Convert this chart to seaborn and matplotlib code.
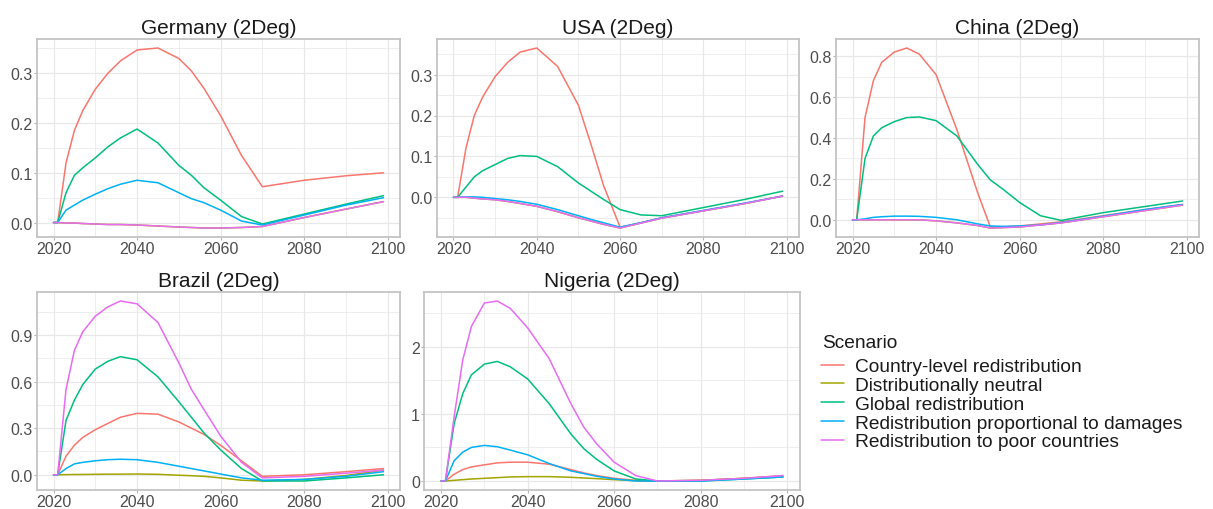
import numpy as np
import pandas as pd
import matplotlib
matplotlib.use("Agg")
import matplotlib.pyplot as plt
import seaborn as sns
from matplotlib.ticker import MultipleLocator, FormatStrFormatter
from matplotlib.lines import Line2D

years = [2020, 2021, 2023, 2025, 2027, 2030, 2033, 2036, 2040, 2045, 2050, 2053, 2056, 2060, 2065, 2070, 2080, 2090, 2099]
scenarios = ["Country-level redistribution", "Distributionally neutral", "Global redistribution",
             "Redistribution proportional to damages", "Redistribution to poor countries"]
colors = ["#F8766D", "#A3A500", "#00BF7D", "#00B0F6", "#E76BF3"]
panel_titles = ["Germany (2Deg)", "USA (2Deg)", "China (2Deg)", "Brazil (2Deg)", "Nigeria (2Deg)"]

germany_country = [0, 0, 0.12, 0.185, 0.225, 0.268, 0.30, 0.325, 0.347, 0.351, 0.33, 0.305, 0.27, 0.215, 0.135, 0.072, 0.085, 0.094, 0.10]
germany_neutral = [0, 0, -0.001, -0.001, -0.002, -0.003, -0.004, -0.004, -0.005, -0.007, -0.009, -0.01, -0.011, -0.011, -0.01, -0.008, 0.01, 0.027, 0.042]
germany_global = [0, 0, 0.06, 0.095, 0.11, 0.13, 0.152, 0.17, 0.188, 0.16, 0.115, 0.095, 0.07, 0.045, 0.012, -0.003, 0.017, 0.037, 0.054]
germany_damages = [0, 0, 0.025, 0.035, 0.045, 0.057, 0.068, 0.077, 0.085, 0.08, 0.06, 0.048, 0.04, 0.025, 0.003, -0.005, 0.015, 0.035, 0.05]
germany_poor = [0, 0, -0.001, -0.001, -0.002, -0.003, -0.004, -0.004, -0.005, -0.007, -0.009, -0.01, -0.011, -0.011, -0.01, -0.008, 0.01, 0.027, 0.042]

usa_country = [0, 0, 0.12, 0.2, 0.245, 0.295, 0.33, 0.355, 0.365, 0.32, 0.225, 0.13, 0.03, -0.073, -0.062, -0.05, -0.033, -0.015, 0.003]
usa_neutral = [0, 0, 0.0, -0.002, -0.004, -0.006, -0.01, -0.015, -0.022, -0.035, -0.05, -0.058, -0.066, -0.075, -0.063, -0.051, -0.033, -0.015, 0.003]
usa_global = [0, 0, 0.025, 0.05, 0.065, 0.08, 0.095, 0.102, 0.1, 0.075, 0.035, 0.015, -0.005, -0.03, -0.043, -0.045, -0.025, -0.005, 0.015]
usa_damages = [0, 0, 0.001, 0.001, 0.0, -0.003, -0.006, -0.01, -0.017, -0.03, -0.045, -0.054, -0.062, -0.073, -0.062, -0.05, -0.032, -0.014, 0.003]
usa_poor = [0, 0, 0.0, -0.002, -0.004, -0.006, -0.01, -0.015, -0.022, -0.035, -0.05, -0.058, -0.066, -0.075, -0.063, -0.051, -0.033, -0.015, 0.003]

china_country = [0, 0, 0.5, 0.68, 0.77, 0.82, 0.84, 0.81, 0.71, 0.44, 0.13, -0.035, -0.035, -0.03, -0.02, -0.01, 0.02, 0.05, 0.075]
china_neutral = [0, 0, 0.0, 0.0, 0.0, 0.0, 0.0, 0.0, -0.005, -0.015, -0.028, -0.04, -0.038, -0.035, -0.025, -0.015, 0.015, 0.045, 0.072]
china_global = [0, 0, 0.3, 0.41, 0.45, 0.48, 0.5, 0.503, 0.485, 0.41, 0.27, 0.195, 0.15, 0.085, 0.02, -0.003, 0.035, 0.065, 0.092]
china_damages = [0, 0, 0.005, 0.012, 0.015, 0.018, 0.018, 0.017, 0.012, 0.0, -0.02, -0.03, -0.032, -0.03, -0.025, -0.013, 0.018, 0.05, 0.075]
china_poor = [0, 0, 0.0, 0.0, 0.0, 0.0, 0.0, 0.0, -0.005, -0.015, -0.028, -0.04, -0.038, -0.035, -0.025, -0.015, 0.015, 0.045, 0.072]

brazil_country = [0, 0, 0.12, 0.19, 0.24, 0.29, 0.33, 0.37, 0.395, 0.39, 0.34, 0.3, 0.26, 0.19, 0.09, -0.01, 0.0, 0.02, 0.04]
brazil_neutral = [0, 0, 0.001, 0.002, 0.002, 0.003, 0.004, 0.004, 0.005, 0.003, -0.003, -0.006, -0.01, -0.02, -0.035, -0.04, -0.03, -0.005, 0.03]
brazil_global = [0, 0, 0.35, 0.48, 0.58, 0.68, 0.73, 0.76, 0.74, 0.63, 0.47, 0.37, 0.27, 0.16, 0.04, -0.04, -0.04, -0.02, 0.0]
brazil_damages = [0, 0, 0.04, 0.07, 0.08, 0.09, 0.097, 0.1, 0.097, 0.08, 0.055, 0.04, 0.025, 0.005, -0.02, -0.035, -0.03, -0.01, 0.02]
brazil_poor = [0, 0, 0.55, 0.8, 0.92, 1.02, 1.08, 1.118, 1.1, 0.98, 0.72, 0.55, 0.42, 0.25, 0.08, -0.02, -0.01, 0.01, 0.03]

nigeria_country = [0, 0, 0.1, 0.17, 0.21, 0.24, 0.27, 0.28, 0.28, 0.25, 0.17, 0.12, 0.08, 0.04, 0.01, 0.0, 0.01, 0.04, 0.08]
nigeria_neutral = [0, 0, 0.01, 0.02, 0.03, 0.04, 0.05, 0.06, 0.065, 0.065, 0.055, 0.045, 0.035, 0.02, 0.005, 0.0, 0.01, 0.04, 0.07]
nigeria_global = [0, 0, 0.85, 1.3, 1.58, 1.74, 1.78, 1.7, 1.52, 1.15, 0.7, 0.48, 0.32, 0.15, 0.03, 0.0, 0.0, 0.03, 0.06]
nigeria_damages = [0, 0, 0.3, 0.43, 0.5, 0.53, 0.51, 0.46, 0.39, 0.26, 0.15, 0.11, 0.07, 0.03, 0.0, 0.0, 0.0, 0.03, 0.06]
nigeria_poor = [0, 0, 0.95, 1.8, 2.3, 2.65, 2.68, 2.57, 2.28, 1.82, 1.15, 0.8, 0.55, 0.28, 0.08, 0.0, 0.01, 0.04, 0.08]

panel_series = [
    [germany_country, germany_neutral, germany_global, germany_damages, germany_poor],
    [usa_country, usa_neutral, usa_global, usa_damages, usa_poor],
    [china_country, china_neutral, china_global, china_damages, china_poor],
    [brazil_country, brazil_neutral, brazil_global, brazil_damages, brazil_poor],
    [nigeria_country, nigeria_neutral, nigeria_global, nigeria_damages, nigeria_poor],
]
y_steps = [0.1, 0.1, 0.2, 0.3, 1.0]
y_formats = ["%.1f", "%.1f", "%.1f", "%.1f", "%d"]

sns.set_style("white")
plt.rcParams["font.family"] = ["Liberation Sans", "DejaVu Sans"]

W, H = 1213, 510
fig = plt.figure(figsize=(W / 100, H / 100), dpi=100)

# panel boxes in pixels: left, top, right, bottom
boxes = [(37, 40, 400, 238), (437, 40, 799, 238), (836, 40, 1199, 238),
         (37, 293, 400, 491), (424, 293, 800, 491)]

border_col = "#C4C4C4"
grid_col = "#E8E8E8"

for i, (l, t, r, b) in enumerate(boxes):
    ax = fig.add_axes([l / W, 1 - b / H, (r - l) / W, (b - t) / H])
    rows = []
    for s, vals in zip(scenarios, panel_series[i]):
        for yr, v in zip(years, vals):
            rows.append({"year": yr, "value": v, "Scenario": s})
    df = pd.DataFrame(rows)
    sns.lineplot(data=df, x="year", y="value", hue="Scenario", hue_order=scenarios,
                 palette=colors, ax=ax, legend=False, linewidth=1.1, sort=False)
    ax.margins(x=0.05, y=0.05)
    ax.set_xlabel("")
    ax.set_ylabel("")
    ax.set_title(panel_titles[i], fontsize=15, pad=4, color="#1A1A1A")
    ax.xaxis.set_major_locator(MultipleLocator(20))
    ax.xaxis.set_minor_locator(MultipleLocator(10))
    ax.yaxis.set_major_locator(MultipleLocator(y_steps[i]))
    ax.yaxis.set_minor_locator(MultipleLocator(y_steps[i] / 2))
    ax.yaxis.set_major_formatter(FormatStrFormatter(y_formats[i]))
    ax.grid(True, which="major", color=grid_col, linewidth=0.9)
    ax.grid(True, which="minor", color=grid_col, linewidth=0.5)
    ax.set_axisbelow(True)
    ax.tick_params(axis="both", which="major", labelsize=11.5, labelcolor="#4D4D4D",
                   color="#B3B3B3", length=2, width=0.8, pad=1, bottom=True, left=True)
    ax.tick_params(axis="both", which="minor", length=0, bottom=False, left=False)
    for sp in ax.spines.values():
        sp.set_color(border_col)
        sp.set_linewidth(1.3)

fig.text(822 / W, 1 - 343 / H, "Scenario", fontsize=13.8, color="#1A1A1A",
         ha="left", va="center")
handles = [Line2D([0], [0], color=c, linewidth=1.1) for c in colors]
leg = fig.legend(handles, scenarios, loc="upper left",
                 bbox_to_anchor=(821 / W, 1 - 359 / H), frameon=False,
                 fontsize=13.8, handlelength=1.2, handletextpad=0.6,
                 labelspacing=0.07, borderaxespad=0, borderpad=0)
for txt in leg.get_texts():
    txt.set_color("#1A1A1A")

fig.savefig("out.png", dpi=100)
